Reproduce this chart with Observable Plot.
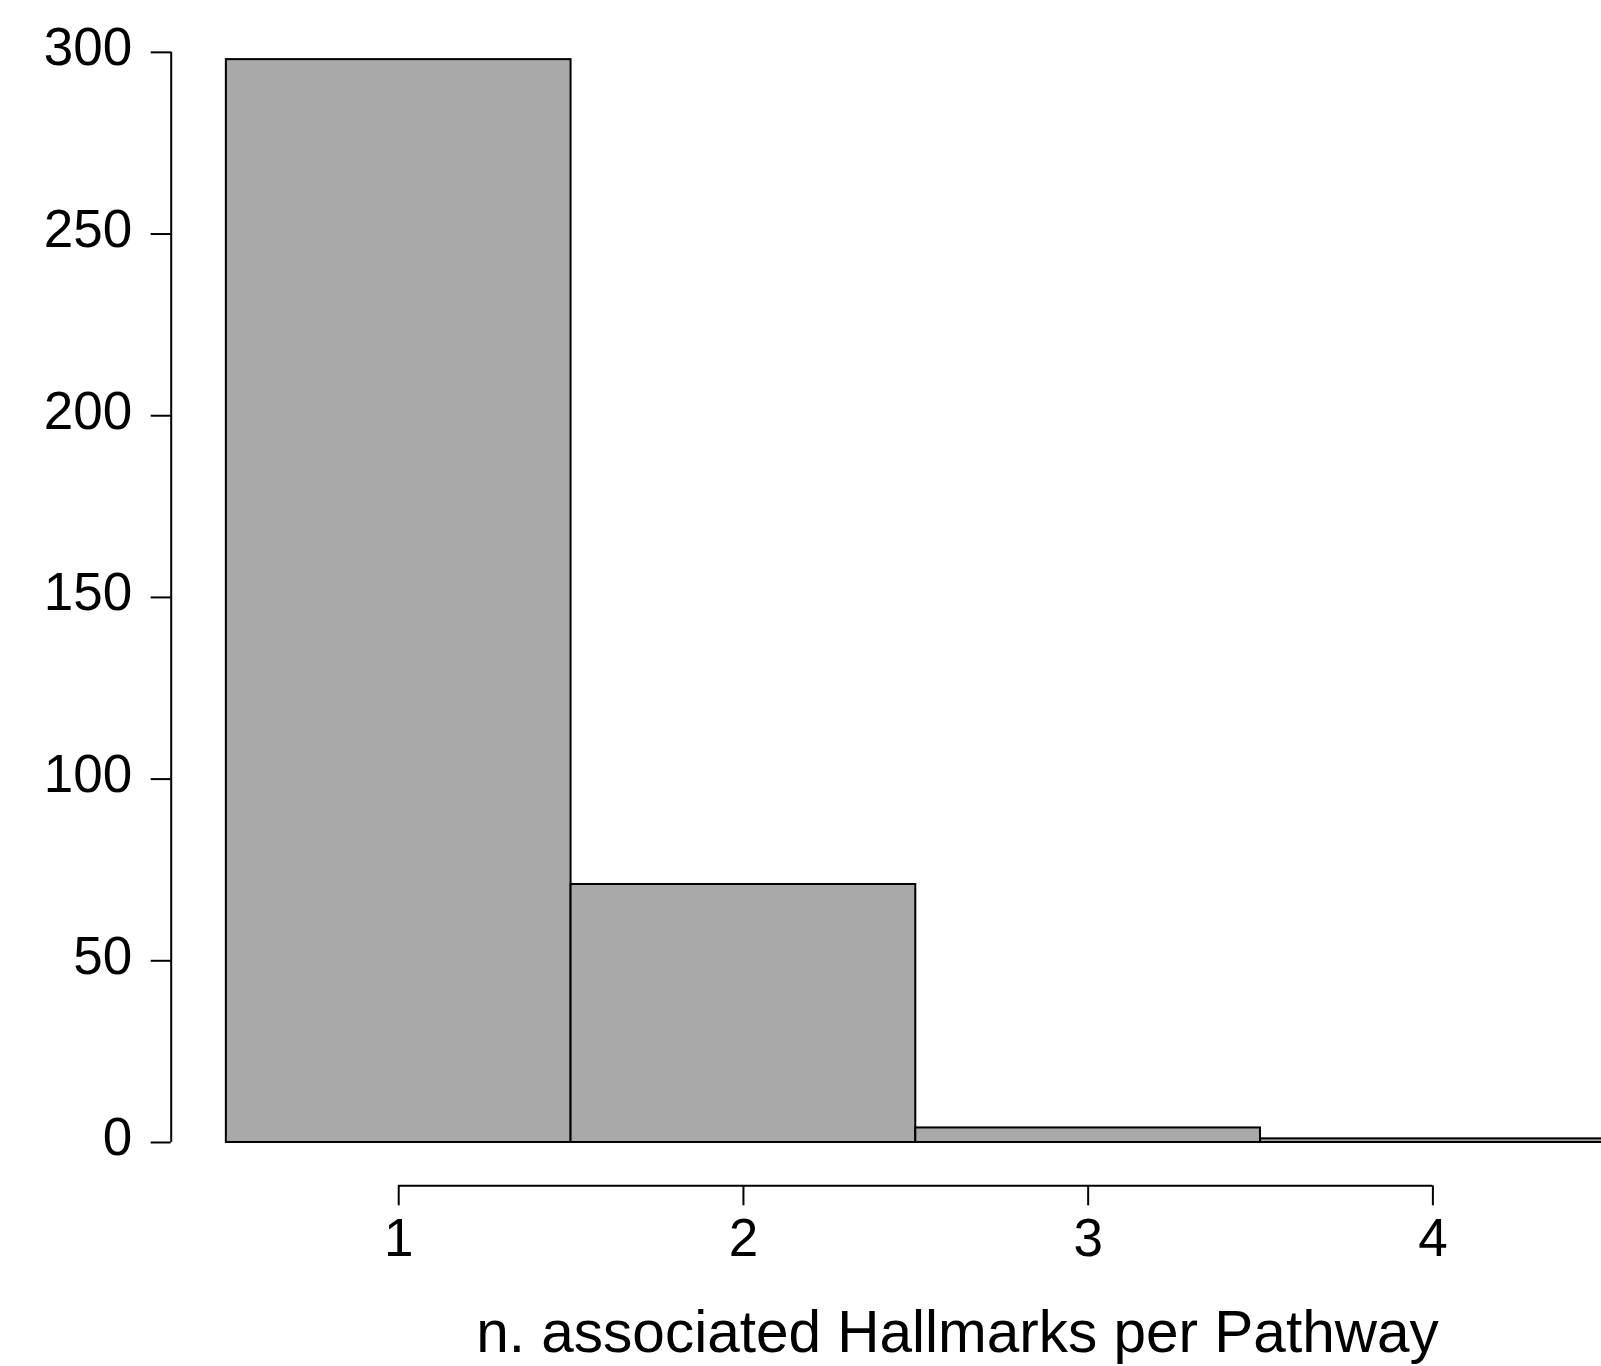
<!DOCTYPE html>
<html>
<head>
<meta charset="utf-8">
<script src="https://cdn.jsdelivr.net/npm/d3@7"></script>
<script src="https://cdn.jsdelivr.net/npm/@observablehq/plot@0.6"></script>
<style>
  html, body { margin: 0; padding: 0; background: white; overflow: hidden; }
  #chart svg { display: block; }
</style>
</head>
<body>
<div id="chart"></div>
<script>
// Data
const bins = [1, 2, 3, 4];
const counts = [298, 71, 4, 1];
const xTicks = [1, 2, 3, 4];
const yTicks = [0, 50, 100, 150, 200, 250, 300];
const xLabel = "n. associated Hallmarks per Pathway";

const data = bins.map((b, i) => ({bin: b, count: counts[i]}));

// R-style axis limits (range extended by 4%)
const xLo = bins[0] - 0.5, xHi = bins[bins.length - 1] + 0.5;
const xPad = (xHi - xLo) * 0.04;
const yMax = d3.max(counts);
const yPad = yMax * 0.04;

const font = "'Liberation Sans', Arial, Helvetica, sans-serif";

const chart = Plot.plot({
  width: 1601,
  height: 1366,
  marginLeft: 170.7,
  marginBottom: 180.7,
  marginTop: 15.8,
  marginRight: 0,
  style: {fontFamily: font, color: "black", background: "white", overflow: "hidden"},
  x: {domain: [xLo - xPad, xHi + xPad], range: [170.7, 1659.9]},
  y: {domain: [-yPad, yMax + yPad], range: [1185.3, 15.8]},
  marks: [
    Plot.rect(data, {
      x1: d => d.bin - 0.5,
      x2: d => d.bin + 0.5,
      y1: 0,
      y2: "count",
      fill: "#A9A9A9",
      stroke: "black",
      strokeWidth: 2
    }),
    // y axis line (from first to last tick)
    Plot.ruleX([xLo - xPad], {y1: yTicks[0], y2: yTicks[yTicks.length - 1], stroke: "black", strokeWidth: 2}),
    // x axis line (from first to last tick)
    Plot.ruleY([-yPad], {x1: xTicks[0], x2: xTicks[xTicks.length - 1], stroke: "black", strokeWidth: 2}),
    // y ticks only
    Plot.axisY(yTicks, {
      anchor: "left",
      tickSize: 20,
      strokeWidth: 2,
      label: null,
      tickFormat: () => ""
    }),
    // y tick labels only
    Plot.axisY(yTicks, {
      anchor: "left",
      tickSize: 0,
      tickPadding: 39,
      fontSize: 53,
      dy: -4,
      label: null,
      tickFormat: d => String(d)
    }),
    Plot.axisX(xTicks, {
      anchor: "bottom",
      tickSize: 20,
      tickPadding: 13,
      strokeWidth: 2,
      fontSize: 53,
      label: null,
      tickFormat: d => String(d)
    }),
    Plot.text([xLabel], {
      text: d => d,
      frameAnchor: "top-left",
      dx: 957 - 170.7,
      dy: 1333 - 15.8,
      textAnchor: "middle",
      lineAnchor: "middle",
      fontSize: 58.5
    })
  ]
});

document.getElementById("chart").appendChild(chart);
</script>
</body>
</html>
